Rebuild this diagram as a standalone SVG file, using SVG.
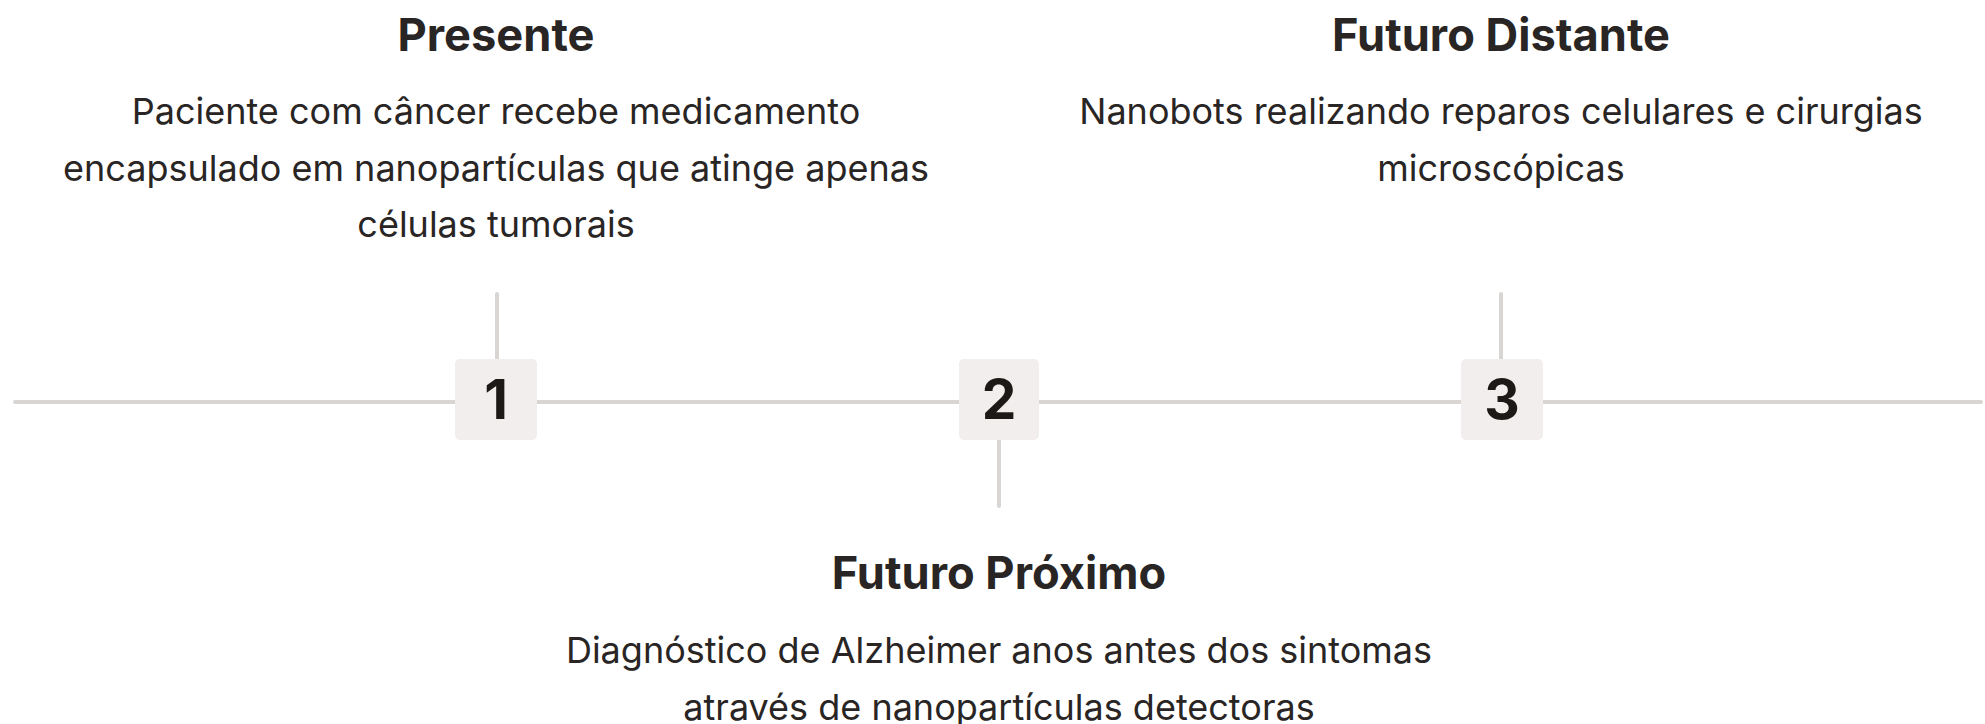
<svg xmlns="http://www.w3.org/2000/svg" width="1985" height="724" viewBox="0 0 1985 724">
<style>
.title{font-family:Inter,"Noto Sans",sans-serif;font-weight:700;font-size:45.2px;fill:#292524;text-anchor:middle}
.body{font-family:Inter,"Noto Sans",sans-serif;font-weight:400;font-size:36px;fill:#292524;text-anchor:middle}
.num{font-family:Inter,"Noto Sans",sans-serif;font-weight:700;font-size:55px;fill:#1c1917;text-anchor:middle}
.box{fill:#f1eeed}
.ln{stroke:#d9d5d3;stroke-width:4;stroke-linecap:round;fill:none}
</style>
<rect width="1985" height="724" fill="#ffffff"/>
<g id="connectors">
<line class="ln" x1="15" y1="402" x2="1981" y2="402"/>
<line class="ln" x1="497" y1="294" x2="497" y2="360"/>
<line class="ln" x1="999" y1="440" x2="999" y2="506"/>
<line class="ln" x1="1501" y1="294" x2="1501" y2="360"/>
</g>
<g id="node-1">
<rect class="box" x="455" y="359" width="82" height="81" rx="5"/>
<text class="num" x="496" y="419">1</text>
<text class="title" x="496" y="51">Presente</text>
<text class="body" x="496" y="124">Paciente com câncer recebe medicamento</text>
<text class="body" x="496" y="180.5">encapsulado em nanopartículas que atinge apenas</text>
<text class="body" x="496" y="237">células tumorais</text>
</g>
<g id="node-2">
<rect class="box" x="959" y="359" width="80" height="81" rx="5"/>
<text class="num" x="999" y="419">2</text>
<text class="title" x="999" y="588.5">Futuro Próximo</text>
<text class="body" x="999" y="663">Diagnóstico de Alzheimer anos antes dos sintomas</text>
<text class="body" x="999" y="719.5">através de nanopartículas detectoras</text>
</g>
<g id="node-3">
<rect class="box" x="1461" y="359" width="82" height="81" rx="5"/>
<text class="num" x="1502" y="419">3</text>
<text class="title" x="1501" y="51">Futuro Distante</text>
<text class="body" x="1501" y="124">Nanobots realizando reparos celulares e cirurgias</text>
<text class="body" x="1501" y="180.5">microscópicas</text>
</g>
</svg>
